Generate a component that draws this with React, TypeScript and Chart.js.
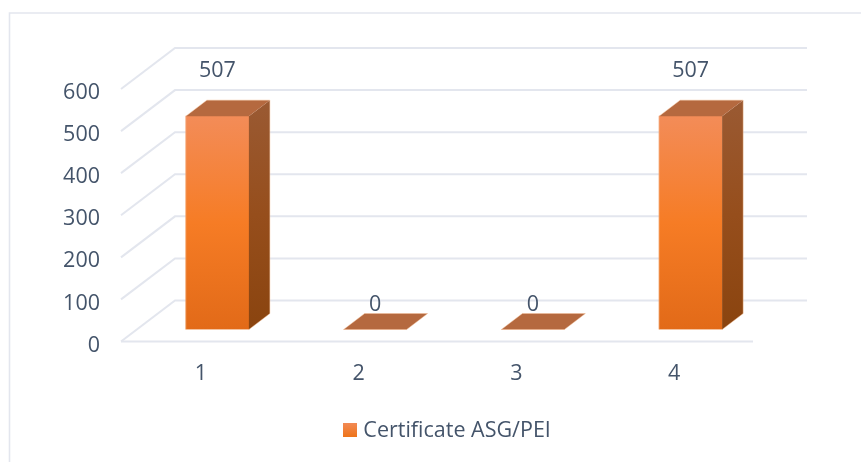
import React, { useEffect, useRef } from "react";
import { Chart, registerables } from "chart.js";

Chart.register(...registerables);

const categories = ["1", "2", "3", "4"];
const seriesName = "Certificate ASG/PEI";
const seriesValues = [507, 0, 0, 507];
const yTicks = [0, 100, 200, 300, 400, 500, 600];

const INK = "#44546a";
const GRID = "#e3e6ee";
const FONT = "'Open Sans'";
const FONT_SIZE = 21.5;

// Oblique projection used for the fake 3D look
const WALL_DX = 54;
const WALL_DY = -41;
const BAR_OFFSET_X = 16.5;
const BAR_OFFSET_Y = -12;
const BAR_DX = 21;
const BAR_DY = -16;
const SWATCH = 14;
const LEGEND_BOX = 9.5;

const poly = (ctx: CanvasRenderingContext2D, pts: number[][], fill: any) => {
  ctx.beginPath();
  pts.forEach((p, i) => (i ? ctx.lineTo(p[0], p[1]) : ctx.moveTo(p[0], p[1])));
  ctx.closePath();
  ctx.fillStyle = fill;
  ctx.fill();
};

const threeD = {
  id: "threeD",
  beforeDraw(chart: any) {
    const ctx = chart.ctx as CanvasRenderingContext2D;
    ctx.save();
    ctx.fillStyle = "#ffffff";
    ctx.fillRect(0, 0, chart.width, chart.height);
    // chart frame
    ctx.strokeStyle = GRID;
    ctx.lineWidth = 1.6;
    ctx.beginPath();
    ctx.moveTo(9.5, chart.height);
    ctx.lineTo(9.5, 13);
    ctx.lineTo(chart.width, 13);
    ctx.stroke();
    ctx.restore();
  },
  afterLayout(chart: any) {
    const lg = chart.legend;
    if (!lg) return;
    const dx = 70.5;
    lg.left += dx;
    lg.right += dx;
    lg.top += 1;
    lg.bottom += 1;
  },
  beforeDatasetsDraw(chart: any) {
    const ctx = chart.ctx as CanvasRenderingContext2D;
    const { x: xs, y: ys } = chart.scales;
    const l = xs.left - 1;
    const r = xs.right;
    ctx.save();
    ctx.strokeStyle = GRID;
    ctx.lineCap = "butt";
    yTicks.forEach((t) => {
      const py = ys.getPixelForValue(t);
      ctx.lineWidth = 2;
      ctx.beginPath();
      ctx.moveTo(l, py);
      ctx.lineTo(l + WALL_DX, py + WALL_DY);
      ctx.lineTo(r + WALL_DX, py + WALL_DY);
      ctx.stroke();
    });
    const base = ys.getPixelForValue(0);
    ctx.lineWidth = 2;
    ctx.beginPath();
    ctx.moveTo(l, base);
    ctx.lineTo(r, base);
    ctx.stroke();
    ctx.restore();
  },
  beforeDatasetDraw(chart: any) {
    chart.ctx.save();
    chart.ctx.translate(BAR_OFFSET_X, BAR_OFFSET_Y);
  },
  afterDatasetDraw(chart: any) {
    const ctx = chart.ctx as CanvasRenderingContext2D;
    const meta = chart.getDatasetMeta(0);
    meta.data.forEach((bar: any) => {
      const p = bar.getProps(["x", "y", "base", "width"], true);
      const a = p.x - p.width / 2;
      const b = p.x + p.width / 2;
      const top = p.y;
      const bottom = p.base;
      if (bottom - top > 0.5) {
        const g = ctx.createLinearGradient(0, top + BAR_DY, 0, bottom);
        g.addColorStop(0, "#9a5a33");
        g.addColorStop(0.5, "#964e1c");
        g.addColorStop(1, "#8a440f");
        poly(ctx, [[b, top], [b + BAR_DX, top + BAR_DY], [b + BAR_DX, bottom + BAR_DY], [b, bottom]], g);
      }
      poly(ctx, [[a, top], [a + BAR_DX, top + BAR_DY], [b + BAR_DX, top + BAR_DY], [b, top]], "#b5693f");
      // pale halo along the outside of the block
      ctx.beginPath();
      ctx.moveTo(a, bottom);
      ctx.lineTo(a, top);
      ctx.lineTo(a + BAR_DX, top + BAR_DY);
      ctx.lineTo(b + BAR_DX, top + BAR_DY);
      ctx.lineTo(b + BAR_DX, bottom + BAR_DY);
      ctx.lineTo(b, bottom);
      ctx.closePath();
      ctx.strokeStyle = "rgba(244,190,150,0.45)";
      ctx.lineWidth = 1;
      ctx.stroke();
    });
    ctx.restore();
  },
  afterDatasetsDraw(chart: any) {
    const ctx = chart.ctx as CanvasRenderingContext2D;
    const meta = chart.getDatasetMeta(0);
    ctx.save();
    ctx.font = `${FONT_SIZE}px ${FONT}`;
    ctx.fillStyle = INK;
    ctx.textAlign = "center";
    ctx.textBaseline = "middle";
    meta.data.forEach((bar: any, i: number) => {
      const v = seriesValues[i];
      const above = v > 0 ? 57 : 37;
      ctx.fillText(String(v), bar.x + BAR_OFFSET_X, bar.y - above);
    });
    // widen the legend's colour box to its full size (text gap is fixed by the library)
    const lg = chart.legend;
    if (lg && lg.lineWidths) {
      const pad = lg.options.labels.padding;
      const sx = (lg.left + pad + lg.right - lg.lineWidths[0]) / 2;
      const midY = 430;
      const g = ctx.createLinearGradient(0, midY - SWATCH / 2, 0, midY + SWATCH / 2);
      g.addColorStop(0, "#f28a55");
      g.addColorStop(1, "#ee7419");
      ctx.fillStyle = g;
      ctx.fillRect(Math.round(sx), midY - SWATCH / 2, SWATCH, SWATCH);
    }
    ctx.restore();
  },
};

export default function App() {
  const ref = useRef<HTMLCanvasElement>(null);
  useEffect(() => {
    const canvas = ref.current!;
    const chart = new Chart(canvas, {
      type: "bar",
      data: {
        labels: categories,
        datasets: [
          {
            label: seriesName,
            data: seriesValues,
            barThickness: 63,
            backgroundColor: (c: any) => {
              const ys = c.chart.scales.y;
              if (!ys || c.parsed === undefined) return "#f97f2f";
              const top = ys.getPixelForValue(c.parsed.y);
              const bottom = ys.getPixelForValue(0);
              const g = c.chart.ctx.createLinearGradient(0, top, 0, Math.max(bottom, top + 1));
              g.addColorStop(0, "#f38c58");
              g.addColorStop(0.5, "#f67c25");
              g.addColorStop(1, "#e26a18");
              return g;
            },
          },
        ],
      },
      options: {
        responsive: false,
        animation: false,
        layout: { padding: { left: 0, right: 108, top: 89, bottom: 11 } },
        scales: {
          x: {
            grid: { display: false, drawTicks: false },
            border: { display: false },
            ticks: { color: INK, font: { family: FONT, size: FONT_SIZE }, padding: 19, maxRotation: 0 },
            afterFit: (s: any) => {
              s.height = 68;
            },
          },
          y: {
            min: 0,
            max: 600,
            afterBuildTicks: (s: any) => {
              s.ticks = yTicks.map((value) => ({ value }));
            },
            grid: { display: false, drawTicks: false },
            border: { display: false },
            ticks: { color: INK, font: { family: FONT, size: FONT_SIZE }, padding: 22, labelOffset: 4 },
            afterFit: (s: any) => {
              s.width = 122;
            },
          },
        },
        plugins: {
          tooltip: { enabled: false },
          legend: {
            position: "bottom",
            labels: {
              color: INK,
              font: { family: FONT, size: FONT_SIZE },
              boxWidth: LEGEND_BOX,
              boxHeight: 10,
              padding: 10,
              generateLabels: () => [
                { text: seriesName, fillStyle: "#f0761e", strokeStyle: "transparent", lineWidth: 0, fontColor: INK, datasetIndex: 0 },
              ],
            },
          },
        },
      } as any,
      plugins: [threeD],
    });
    return () => chart.destroy();
  }, []);
  return (
    <div style={{ position: "absolute", left: 0, top: 0, width: 861, height: 462 }}>
      <canvas ref={ref} width={861} height={462} style={{ display: "block" }} />
    </div>
  );
}
